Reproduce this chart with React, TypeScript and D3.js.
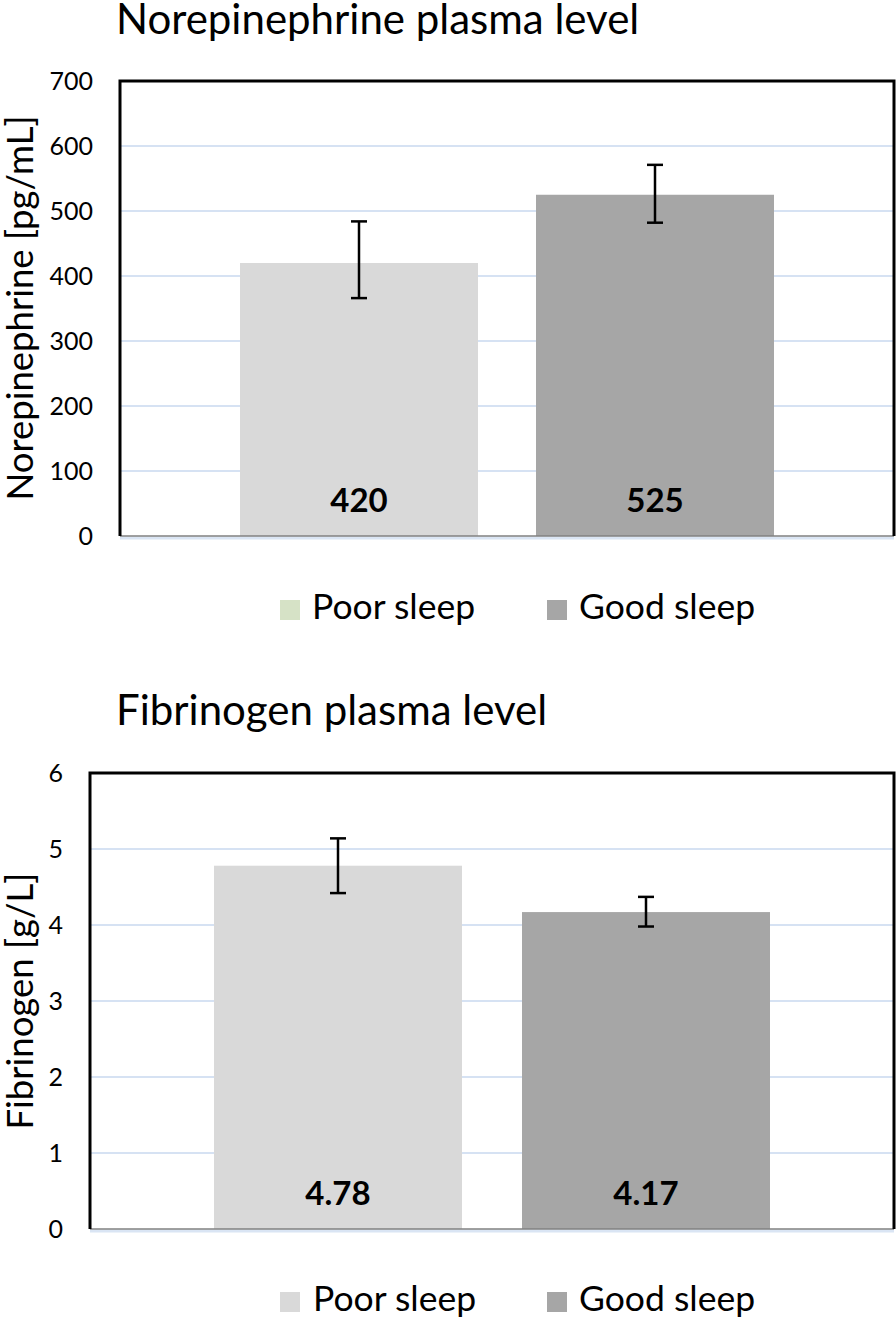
import React from "react";
import * as d3 from "d3";

const groups = ["Poor sleep", "Good sleep"];

const norValues = [420, 525];
const norLow = [366, 482];
const norHigh = [484, 571];
const norTicks = [0, 100, 200, 300, 400, 500, 600, 700];
const norLabels = ["420", "525"];

const fibValues = [4.78, 4.17];
const fibLow = [4.42, 3.98];
const fibHigh = [5.14, 4.37];
const fibTicks = [0, 1, 2, 3, 4, 5, 6];
const fibLabels = ["4.78", "4.17"];

const FONT = "Lato, 'Open Sans', sans-serif";

type PanelProps = {
  title: string;
  yTitle: string;
  values: number[];
  low: number[];
  high: number[];
  ticks: number[];
  labels: string[];
  box: { x0: number; x1: number; y0: number; y1: number };
  bars: [number, number][];
  titleY: number;
  tickX: number;
  yTitleY: number;
  legendY: number;
  legendX: number[];
  legendColors: string[];
};

function Panel(p: PanelProps) {
  const { box } = p;
  const y = d3
    .scaleLinear()
    .domain([0, p.ticks[p.ticks.length - 1]])
    .range([box.y1, box.y0]);
  const fills = ["#d9d9d9", "#a6a6a6"];
  return (
    <g>
      <text x={116} y={p.titleY} fontSize={42} fontFamily={FONT} fill="#000">
        {p.title}
      </text>
      {p.ticks.slice(1, -1).map((t) => (
        <line
          key={t}
          x1={box.x0}
          x2={box.x1}
          y1={y(t)}
          y2={y(t)}
          stroke="#d6e2f3"
          strokeWidth={2}
        />
      ))}
      {p.values.map((v, i) => (
        <rect
          key={i}
          x={p.bars[i][0]}
          width={p.bars[i][1] - p.bars[i][0]}
          y={y(v)}
          height={y(0) - y(v)}
          fill={fills[i]}
        />
      ))}
      {p.values.map((v, i) => {
        const cx = (p.bars[i][0] + p.bars[i][1]) / 2;
        return (
          <g key={"e" + i} stroke="#000" strokeWidth={2.5}>
            <line x1={cx} x2={cx} y1={y(p.high[i])} y2={y(p.low[i])} />
            <line x1={cx - 8} x2={cx + 8} y1={y(p.high[i])} y2={y(p.high[i])} />
            <line x1={cx - 8} x2={cx + 8} y1={y(p.low[i])} y2={y(p.low[i])} />
          </g>
        );
      })}
      {p.labels.map((l, i) => (
        <text
          key={"l" + i}
          x={(p.bars[i][0] + p.bars[i][1]) / 2}
          y={box.y1 - 24}
          textAnchor="middle"
          fontSize={33}
          fontWeight="bold"
          fontFamily={FONT}
          fill="#000"
        >
          {l}
        </text>
      ))}
      {/* bottom axis */}
      <line x1={box.x0} x2={box.x1} y1={box.y1 + 2} y2={box.y1 + 2} stroke="#dae5f4" strokeWidth={3} />
      <line x1={box.x0} x2={box.x1} y1={box.y1} y2={box.y1} stroke="#808080" strokeWidth={1.5} />
      {/* frame: top, left, right */}
      <path
        d={`M${box.x0},${box.y1}V${box.y0}H${box.x1}V${box.y1}`}
        fill="none"
        stroke="#000"
        strokeWidth={3}
      />
      {p.ticks.map((t) => (
        <text
          key={"t" + t}
          x={p.tickX}
          y={y(t)}
          dy="0.35em"
          textAnchor="end"
          fontSize={25}
          fontFamily={FONT}
          fill="#000"
        >
          {t}
        </text>
      ))}
      <text
        transform={`translate(33,${p.yTitleY}) rotate(-90)`}
        textAnchor="middle"
        fontSize={36.5}
        fontFamily={FONT}
        fill="#000"
      >
        {p.yTitle}
      </text>
      {groups.map((g, i) => {
        const sx = [280, 547][i];
        return (
          <g key={"lg" + i}>
            <rect x={sx} y={p.legendY - 19} width={20} height={20} fill={p.legendColors[i]} />
            <text x={p.legendX[i]} y={p.legendY} fontSize={35.5} fontFamily={FONT} fill="#000">
              {g}
            </text>
          </g>
        );
      })}
    </g>
  );
}

export default function App() {
  return (
    <svg
      width={896}
      height={1322}
      style={{ position: "absolute", left: 0, top: 0, background: "#fff" }}
    >
      <Panel
        title="Norepinephrine plasma level"
        yTitle="Norepinephrine [pg/mL]"
        values={norValues}
        low={norLow}
        high={norHigh}
        ticks={norTicks}
        labels={norLabels}
        box={{ x0: 120, x1: 894, y0: 81, y1: 536 }}
        bars={[
          [240, 478],
          [536, 774],
        ]}
        titleY={34}
        tickX={93}
        yTitleY={308}
        legendY={619}
        legendX={[312, 579]}
        legendColors={["#d6e2c6", "#a6a6a6"]}
      />
      <Panel
        title="Fibrinogen plasma level"
        yTitle="Fibrinogen [g/L]"
        values={fibValues}
        low={fibLow}
        high={fibHigh}
        ticks={fibTicks}
        labels={fibLabels}
        box={{ x0: 90, x1: 894, y0: 773, y1: 1229 }}
        bars={[
          [214, 462],
          [522, 770],
        ]}
        titleY={725}
        tickX={63}
        yTitleY={1001}
        legendY={1311}
        legendX={[313, 579]}
        legendColors={["#d9d9d9", "#a6a6a6"]}
      />
    </svg>
  );
}
